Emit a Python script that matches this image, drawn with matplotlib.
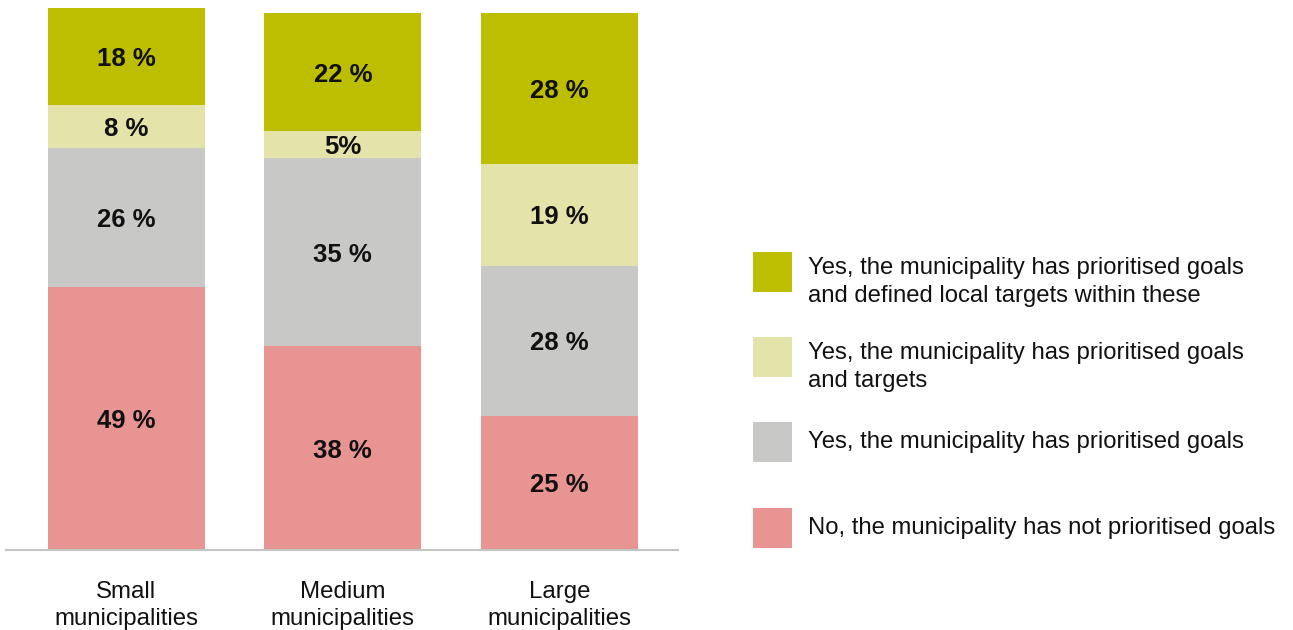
import numpy as np
import matplotlib.pyplot as plt
from matplotlib.patches import Rectangle

plt.rcParams['font.family'] = ['Liberation Sans', 'DejaVu Sans']

categories = ['Small\nmunicipalities', 'Medium\nmunicipalities', 'Large\nmunicipalities']
series_names = [
    'No, the municipality has not prioritised goals',
    'Yes, the municipality has prioritised goals',
    'Yes, the municipality has prioritised goals\nand targets',
    'Yes, the municipality has prioritised goals\nand defined local targets within these',
]
not_prioritised = [49, 38, 25]
goals_only = [26, 35, 28]
goals_targets = [8, 5, 19]
goals_local = [18, 22, 28]
bar_labels = [
    ['49 %', '38 %', '25 %'],
    ['26 %', '35 %', '28 %'],
    ['8 %', '5%', '19 %'],
    ['18 %', '22 %', '28 %'],
]
colors = ['#E89492', '#C8C8C7', '#E4E4AA', '#BEBE00']

W, H = 1293, 630
fig = plt.figure(figsize=(W / 100, H / 100), dpi=100)
ax = fig.add_axes([6 / W, 80 / H, 672 / W, 542 / H])

x = np.arange(len(categories))
values = [not_prioritised, goals_only, goals_targets, goals_local]
bottom = np.zeros(len(categories))
for vals, col, labs in zip(values, colors, bar_labels):
    vals = np.array(vals, dtype=float)
    ax.bar(x, vals, bottom=bottom, width=0.725, color=col, linewidth=0)
    for xi, b, v, lab in zip(x, bottom, vals, labs):
        ax.text(xi, b + v / 2, lab, ha='center', va='center_baseline',
                fontsize=18.5, fontweight='bold', color='#111111')
    bottom += vals

ax.set_xlim(-0.556, 2.548)
ax.set_ylim(0, 101)
for s in ['top', 'right', 'left']:
    ax.spines[s].set_visible(False)
ax.spines['bottom'].set_color('#C4C4C4')
ax.spines['bottom'].set_linewidth(1.5)
ax.set_yticks([])
ax.set_xticks(x)
ax.set_xticklabels(categories, fontsize=17.3, color='#111111', linespacing=1.3)
ax.tick_params(axis='x', length=0, pad=22)

# legend drawn by hand so that rows are evenly spaced
centers = [528, 442, 357, 272]
for name, col, cy in zip(series_names, colors, centers):
    fig.add_artist(Rectangle((753 / W, 1 - (cy + 20) / H), 39 / W, 40 / H,
                             transform=fig.transFigure, color=col, lw=0))
    nlines = name.count('\n') + 1
    fig.text(808 / W, 1 - (cy + 10 * (nlines - 1)) / H, name, ha='left', va='center',
             fontsize=17.2, color='#111111', linespacing=1.35)

fig.savefig('out.png', dpi=100)
